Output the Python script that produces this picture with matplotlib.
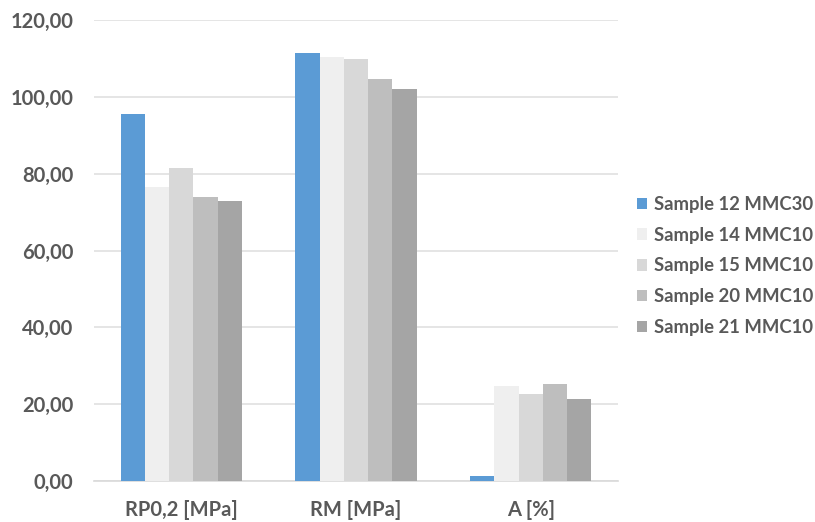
import matplotlib
matplotlib.use("Agg")
import matplotlib.pyplot as plt
import numpy as np

categories = ["RP0,2 [MPa]", "RM [MPa]", "A [%]"]
series_names = ["Sample 12 MMC30", "Sample 14 MMC10", "Sample 15 MMC10",
                "Sample 20 MMC10", "Sample 21 MMC10"]
sample12 = [95.5, 111.5, 1.3]
sample14 = [76.4, 110.4, 24.6]
sample15 = [81.4, 109.9, 22.6]
sample20 = [74.0, 104.6, 25.2]
sample21 = [72.9, 102.0, 21.4]
yticks = [0, 20, 40, 60, 80, 100, 120]

series = [sample12, sample14, sample15, sample20, sample21]
colors = ["#5B9BD5", "#EFEFEF", "#D8D8D8", "#BEBEBE", "#A5A5A5"]

plt.rcParams['font.family'] = ['Lato', 'DejaVu Sans']
text_color = "#595959"

W, H = 815, 522
fig = plt.figure(figsize=(W / 100, H / 100), dpi=100)
ax = fig.add_axes([94 / W, (H - 481) / H, 524 / W, (481 - 20) / H])

x = np.arange(len(categories))
n = len(series)
bw = 0.695 / n
for i, (vals, c, name) in enumerate(zip(series, colors, series_names)):
    ax.bar(x + (i - (n - 1) / 2) * bw, vals, width=bw, color=c, label=name,
           zorder=3)

ax.set_xlim(-0.5, len(categories) - 0.5)
ax.set_ylim(0, 120)
ax.set_yticks(yticks)
ax.set_yticklabels([f"{v:.2f}".replace(".", ",") for v in yticks])
ax.set_xticks(x)
ax.set_xticklabels(categories)

ax.grid(axis="y", color="#E0E0E0", linewidth=1.2, zorder=0)
for s in ["top", "right", "left"]:
    ax.spines[s].set_visible(False)
ax.spines["bottom"].set_color("#D9D9D9")
ax.spines["bottom"].set_linewidth(1.2)
ax.tick_params(axis="both", length=0, colors=text_color, labelsize=14.5)
ax.tick_params(axis="y", pad=15)
ax.tick_params(axis="x", pad=14)
for lbl in ax.get_xticklabels() + ax.get_yticklabels():
    lbl.set_fontweight("bold")

leg = fig.legend(loc="center left", bbox_to_anchor=(637 / W, (H - 266) / H),
                 frameon=False, fontsize=13.3, handlelength=0.56,
                 handleheight=0.56, handletextpad=0.38, labelspacing=0.75,
                 borderpad=0, borderaxespad=0)
for t in leg.get_texts():
    t.set_color(text_color)
    t.set_fontweight("bold")

fig.savefig("out.png", dpi=100)
